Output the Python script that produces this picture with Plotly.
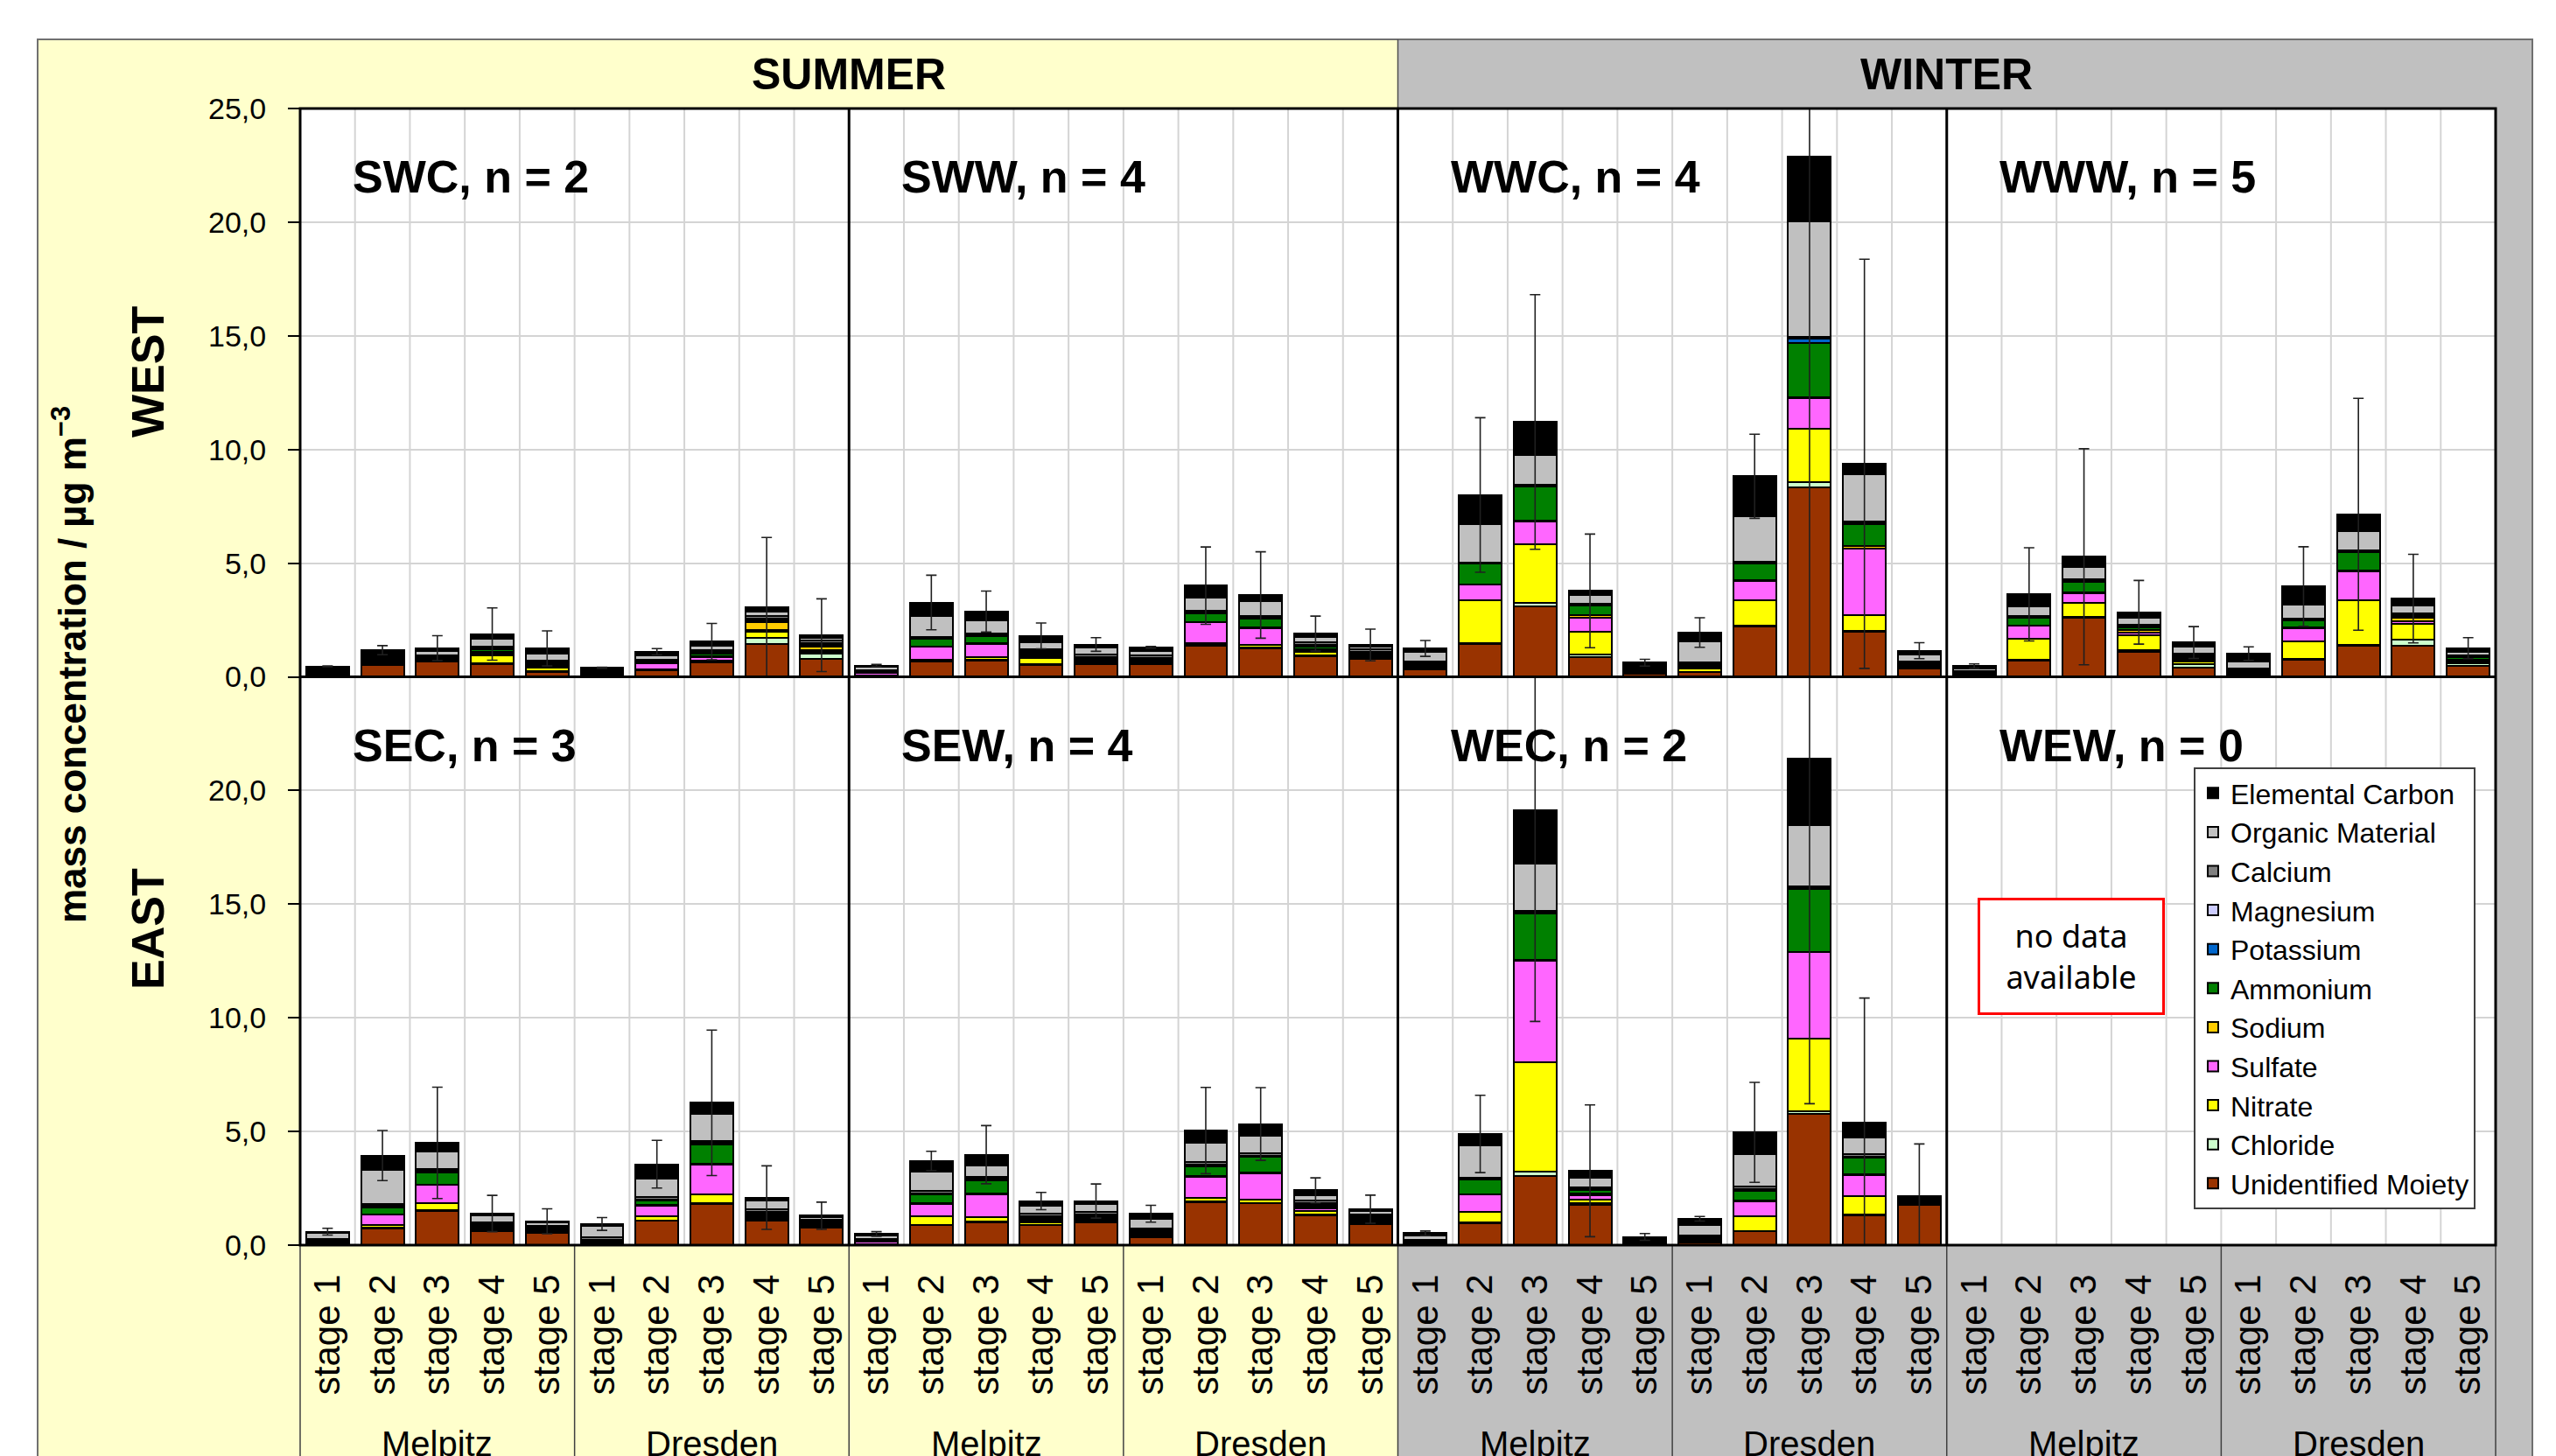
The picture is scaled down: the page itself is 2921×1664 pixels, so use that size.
import plotly.graph_objects as go
from plotly.subplots import make_subplots

W, H = 2921, 1664
FONT = "Liberation Sans, Arial, sans-serif"

# ---------------- data ----------------
components = ["Unidentified Moiety", "Chloride", "Nitrate", "Sulfate", "Sodium",
              "Ammonium", "Potassium", "Magnesium", "Calcium",
              "Organic Material", "Elemental Carbon"]
colors = ["#993300", "#CCFFCC", "#FFFF00", "#FF66FF", "#FFCC00",
          "#008000", "#0066CC", "#CCCCFF", "#808080", "#C0C0C0", "#000000"]

stages = ["stage 1", "stage 2", "stage 3", "stage 4", "stage 5"]
sites = ["Melpitz", "Dresden"]
seasons = ["SUMMER", "WINTER"]
directions = ["WEST", "EAST"]
y_ticks_top = [0, 5, 10, 15, 20, 25]
y_ticks_bottom = [0, 5, 10, 15, 20]

panel_names = ["SWC, n = 2", "SWW, n = 4", "WWC, n = 4", "WWW, n = 5",
               "SEC, n = 3", "SEW, n = 4", "WEC, n = 2", "WEW, n = 0"]

# rows: Melpitz stage 1-5, Dresden stage 1-5; columns in the order of `components`
SWC = [
    [0.03, 0.02, 0.08, 0.04, 0.02, 0.03, 0.02, 0.02, 0.04, 0.08, 0.08],
    [0.52, 0.04, 0.04, 0.04, 0.04, 0.04, 0.04, 0.04, 0.05, 0.10, 0.22],
    [0.67, 0.03, 0.04, 0.04, 0.03, 0.04, 0.03, 0.03, 0.05, 0.18, 0.12],
    [0.55, 0.03, 0.35, 0.10, 0.08, 0.10, 0.04, 0.03, 0.06, 0.32, 0.22],
    [0.20, 0.04, 0.16, 0.06, 0.04, 0.06, 0.04, 0.03, 0.10, 0.30, 0.22],
    [0.10, 0.01, 0.01, 0.01, 0.01, 0.01, 0.01, 0.01, 0.02, 0.02, 0.19],
    [0.27, 0.02, 0.04, 0.25, 0.03, 0.05, 0.03, 0.02, 0.05, 0.20, 0.14],
    [0.62, 0.03, 0.07, 0.15, 0.05, 0.10, 0.04, 0.03, 0.07, 0.22, 0.17],
    [1.45, 0.26, 0.28, 0.08, 0.32, 0.08, 0.06, 0.04, 0.10, 0.20, 0.18],
    [0.78, 0.23, 0.10, 0.06, 0.15, 0.08, 0.05, 0.04, 0.10, 0.14, 0.10],
]
SWC_err = [0.02, 0.2, 0.55, 1.15, 0.77, 0.02, 0.14, 0.8, 3.08, 1.6]

SWW = [
    [0.04, 0.01, 0.01, 0.10, 0.01, 0.02, 0.02, 0.02, 0.05, 0.15, 0.07],
    [0.68, 0.03, 0.05, 0.55, 0.03, 0.32, 0.03, 0.02, 0.06, 0.90, 0.60],
    [0.72, 0.03, 0.10, 0.60, 0.03, 0.30, 0.03, 0.02, 0.06, 0.60, 0.38],
    [0.53, 0.03, 0.25, 0.08, 0.04, 0.10, 0.05, 0.04, 0.10, 0.30, 0.28],
    [0.55, 0.03, 0.08, 0.06, 0.03, 0.06, 0.04, 0.03, 0.10, 0.30, 0.14],
    [0.55, 0.02, 0.03, 0.08, 0.03, 0.05, 0.04, 0.03, 0.10, 0.20, 0.17],
    [1.38, 0.03, 0.08, 0.90, 0.03, 0.36, 0.03, 0.02, 0.06, 0.58, 0.54],
    [1.26, 0.03, 0.12, 0.73, 0.05, 0.36, 0.03, 0.03, 0.07, 0.65, 0.27],
    [0.91, 0.03, 0.16, 0.08, 0.04, 0.10, 0.05, 0.04, 0.10, 0.25, 0.14],
    [0.80, 0.03, 0.05, 0.05, 0.05, 0.06, 0.04, 0.03, 0.10, 0.12, 0.07],
]
SWW_err = [0.05, 1.2, 0.9, 0.57, 0.3, 0.04, 1.7, 1.9, 0.77, 0.7]

WWC = [
    [0.33, 0.03, 0.08, 0.06, 0.03, 0.07, 0.02, 0.01, 0.03, 0.42, 0.17],
    [1.45, 0.05, 1.87, 0.68, 0.03, 0.90, 0.02, 0.01, 0.02, 1.70, 1.27],
    [3.10, 0.15, 2.60, 1.00, 0.03, 1.50, 0.02, 0.01, 0.02, 1.33, 1.45],
    [0.85, 0.15, 1.00, 0.60, 0.10, 0.45, 0.03, 0.02, 0.03, 0.35, 0.20],
    [0.15, 0.01, 0.02, 0.02, 0.01, 0.02, 0.01, 0.01, 0.02, 0.05, 0.30],
    [0.20, 0.03, 0.12, 0.10, 0.02, 0.10, 0.02, 0.01, 0.05, 0.90, 0.40],
    [2.20, 0.05, 1.10, 0.88, 0.03, 0.72, 0.03, 0.02, 0.04, 2.00, 1.75],
    [8.35, 0.20, 2.35, 1.36, 0.03, 2.40, 0.20, 0.02, 0.03, 5.10, 2.85],
    [2.00, 0.04, 0.66, 2.94, 0.12, 0.97, 0.03, 0.02, 0.04, 2.10, 0.45],
    [0.35, 0.03, 0.08, 0.05, 0.02, 0.08, 0.02, 0.01, 0.03, 0.30, 0.18],
]
WWC_err = [0.35, 3.4, 5.6, 2.5, 0.15, 0.65, 1.85, 24.0, 9.0, 0.35]

WWW = [
    [0.05, 0.01, 0.02, 0.10, 0.01, 0.03, 0.01, 0.01, 0.02, 0.12, 0.09],
    [0.73, 0.03, 0.92, 0.56, 0.03, 0.33, 0.02, 0.01, 0.03, 0.45, 0.52],
    [2.60, 0.03, 0.64, 0.42, 0.03, 0.45, 0.03, 0.03, 0.05, 0.55, 0.45],
    [1.09, 0.10, 0.64, 0.12, 0.12, 0.12, 0.03, 0.02, 0.05, 0.30, 0.25],
    [0.42, 0.12, 0.12, 0.08, 0.08, 0.10, 0.03, 0.02, 0.04, 0.32, 0.18],
    [0.05, 0.07, 0.03, 0.05, 0.03, 0.05, 0.02, 0.02, 0.05, 0.30, 0.35],
    [0.77, 0.03, 0.74, 0.60, 0.03, 0.30, 0.03, 0.02, 0.05, 0.60, 0.80],
    [1.35, 0.04, 1.99, 1.26, 0.03, 0.82, 0.02, 0.02, 0.05, 0.82, 0.75],
    [1.37, 0.26, 0.68, 0.12, 0.15, 0.10, 0.03, 0.02, 0.06, 0.35, 0.30],
    [0.50, 0.09, 0.08, 0.05, 0.05, 0.08, 0.02, 0.02, 0.05, 0.15, 0.17],
]
WWW_err = [0.1, 2.05, 4.75, 1.4, 0.7, 0.3, 1.75, 5.1, 1.95, 0.46]

SEC = [
    [0.03, 0.01, 0.02, 0.03, 0.01, 0.08, 0.02, 0.02, 0.05, 0.25, 0.07],
    [0.75, 0.03, 0.10, 0.45, 0.03, 0.30, 0.03, 0.03, 0.10, 1.50, 0.62],
    [1.50, 0.03, 0.32, 0.79, 0.03, 0.54, 0.03, 0.03, 0.07, 0.78, 0.38],
    [0.62, 0.03, 0.04, 0.05, 0.03, 0.05, 0.05, 0.04, 0.08, 0.30, 0.10],
    [0.55, 0.02, 0.04, 0.04, 0.02, 0.04, 0.04, 0.03, 0.08, 0.13, 0.06],
    [0.08, 0.01, 0.02, 0.02, 0.02, 0.03, 0.04, 0.03, 0.08, 0.50, 0.10],
    [1.06, 0.03, 0.18, 0.45, 0.04, 0.20, 0.03, 0.03, 0.10, 0.80, 0.64],
    [1.80, 0.04, 0.38, 1.32, 0.04, 0.85, 0.03, 0.03, 0.10, 1.20, 0.47],
    [1.06, 0.04, 0.08, 0.08, 0.05, 0.08, 0.05, 0.04, 0.10, 0.40, 0.11],
    [0.78, 0.03, 0.04, 0.04, 0.03, 0.05, 0.04, 0.03, 0.08, 0.12, 0.05],
]
SEC_err = [0.15, 1.1, 2.45, 0.8, 0.55, 0.28, 1.05, 3.2, 1.4, 0.6]

SEW = [
    [0.03, 0.01, 0.01, 0.10, 0.01, 0.03, 0.02, 0.02, 0.05, 0.15, 0.06],
    [0.87, 0.03, 0.38, 0.54, 0.03, 0.38, 0.03, 0.03, 0.08, 0.85, 0.48],
    [1.00, 0.03, 0.19, 1.03, 0.03, 0.58, 0.03, 0.03, 0.08, 0.50, 0.48],
    [0.87, 0.03, 0.10, 0.06, 0.04, 0.08, 0.05, 0.04, 0.12, 0.35, 0.20],
    [1.00, 0.03, 0.10, 0.05, 0.04, 0.06, 0.04, 0.04, 0.10, 0.34, 0.14],
    [0.33, 0.03, 0.04, 0.08, 0.03, 0.05, 0.05, 0.04, 0.10, 0.40, 0.23],
    [1.90, 0.03, 0.15, 0.92, 0.03, 0.45, 0.03, 0.03, 0.10, 0.85, 0.55],
    [1.83, 0.03, 0.13, 1.18, 0.03, 0.68, 0.03, 0.03, 0.12, 0.75, 0.52],
    [1.32, 0.03, 0.16, 0.10, 0.04, 0.10, 0.05, 0.04, 0.12, 0.25, 0.20],
    [0.94, 0.03, 0.07, 0.05, 0.04, 0.06, 0.04, 0.03, 0.10, 0.16, 0.06],
]
SEW_err = [0.1, 0.43, 1.28, 0.38, 0.75, 0.37, 1.9, 1.6, 0.55, 0.62]

WEC = [
    [0.05, 0.02, 0.06, 0.02, 0.02, 0.03, 0.01, 0.01, 0.02, 0.18, 0.10],
    [0.97, 0.03, 0.45, 0.78, 0.02, 0.65, 0.02, 0.01, 0.02, 1.42, 0.52],
    [3.03, 0.20, 4.80, 4.47, 0.03, 2.05, 0.05, 0.02, 0.04, 2.10, 2.35],
    [1.78, 0.05, 0.16, 0.22, 0.05, 0.17, 0.03, 0.02, 0.05, 0.42, 0.32],
    [0.05, 0.02, 0.05, 0.02, 0.02, 0.02, 0.01, 0.01, 0.02, 0.04, 0.10],
    [0.12, 0.02, 0.08, 0.05, 0.02, 0.06, 0.02, 0.02, 0.04, 0.45, 0.28],
    [0.60, 0.03, 0.65, 0.65, 0.02, 0.45, 0.03, 0.03, 0.10, 1.45, 0.95],
    [5.78, 0.11, 3.20, 3.79, 0.03, 2.75, 0.05, 0.03, 0.05, 2.68, 2.95],
    [1.30, 0.03, 0.84, 0.92, 0.03, 0.73, 0.03, 0.02, 0.10, 0.75, 0.62],
    [1.78, 0.00, 0.00, 0.00, 0.00, 0.00, 0.00, 0.00, 0.00, 0.00, 0.39],
]
WEC_err = [0.1, 1.7, 9.3, 2.9, 0.15, 0.1, 2.2, 15.2, 5.5, 2.28]

WEW = None          # no data available
WEW_err = None

panel_data = [SWC, SWW, WWC, WWW, SEC, SEW, WEC, WEW]
panel_err = [SWC_err, SWW_err, WWC_err, WWW_err, SEC_err, SEW_err, WEC_err, WEW_err]

# ---------------- geometry (pixels) ----------------
PL, PR, PT, PB = 343, 2852, 124, 1423
PW = (PR - PL) / 4.0
PH = (PB - PT) / 2.0
FL, FR, FT = 43, 2894, 45
SPLIT = PL + 2 * PW


def X(px):
    return px / W


def Y(py):
    return 1 - py / H


fig = make_subplots(rows=2, cols=4, horizontal_spacing=0, vertical_spacing=0)

xs = list(range(10))
ticktext_x = stages + stages

for i, data in enumerate(panel_data):
    r, c = i // 4 + 1, i % 4 + 1
    if data is not None:
        for k, comp in enumerate(components):
            fig.add_trace(go.Bar(
                x=xs, y=[row[k] for row in data], name=comp,
                marker=dict(color=colors[k], line=dict(color="black", width=2)),
                width=0.78, showlegend=(i == 0), hoverinfo="skip"),
                row=r, col=c)
        totals = [sum(row) for row in data]
        fig.add_trace(go.Scatter(
            x=xs, y=totals, mode="markers",
            marker=dict(size=2, color="rgba(0,0,0,0)"),
            error_y=dict(type="data", array=panel_err[i], symmetric=True,
                         color="#202020", thickness=1.6, width=6),
            showlegend=False, hoverinfo="skip"),
            row=r, col=c)
    else:
        # empty placeholder so the axis of the no-data panel is still drawn
        fig.add_trace(go.Scatter(x=xs, y=[None] * 10, mode="markers",
                                 showlegend=False, hoverinfo="skip"),
                      row=r, col=c)

    x0 = PL + (c - 1) * PW
    top = PT + (r - 1) * PH
    fig.update_xaxes(
        type="linear", automargin=False,
        domain=[X(x0), X(x0 + PW)], range=[-0.5, 9.5],
        tickmode="array", tickvals=xs, ticktext=ticktext_x, tickangle=-90,
        showticklabels=(r == 2), ticks="", showgrid=False, zeroline=False,
        showline=False, tickfont=dict(family=FONT, size=42, color="black"),
        ticklabelstandoff=24, fixedrange=True,
        row=r, col=c)
    yt = y_ticks_top if r == 1 else y_ticks_bottom
    fig.update_yaxes(
        type="linear", automargin=False,
        domain=[Y(top + PH), Y(top)], range=[0, 25],
        tickmode="array", tickvals=yt,
        ticktext=[f"{v:.1f}".replace(".", ",") for v in yt],
        showticklabels=(c == 1), ticks=("outside" if c == 1 else ""),
        ticklen=13, tickwidth=2, tickcolor="black",
        showgrid=True, gridcolor="#D4D4D4", gridwidth=2,
        zeroline=False, showline=False,
        tickfont=dict(family=FONT, size=34, color="black"),
        ticklabelstandoff=18, fixedrange=True,
        row=r, col=c)

# ---------------- shapes ----------------
shapes = []
shapes.append(dict(type="rect", xref="paper", yref="paper", layer="below",
                   x0=X(FL), x1=X(SPLIT), y0=Y(FT), y1=Y(H + 40),
                   fillcolor="#FFFFCC", line=dict(width=0)))
shapes.append(dict(type="rect", xref="paper", yref="paper", layer="below",
                   x0=X(SPLIT), x1=X(FR), y0=Y(FT), y1=Y(H + 40),
                   fillcolor="#C0C0C0", line=dict(width=0)))
shapes.append(dict(type="rect", xref="paper", yref="paper", layer="below",
                   x0=X(FL), x1=X(FR), y0=Y(FT), y1=Y(H + 40),
                   line=dict(color="#707070", width=2)))
shapes.append(dict(type="rect", xref="paper", yref="paper", layer="below",
                   x0=X(PL), x1=X(PR), y0=Y(PB), y1=Y(PT),
                   fillcolor="white", line=dict(width=0)))
for c in range(4):
    for k in range(1, 10):
        xx = PL + c * PW + k * PW / 10
        shapes.append(dict(type="line", xref="paper", yref="paper", layer="below",
                           x0=X(xx), x1=X(xx), y0=Y(PB), y1=Y(PT),
                           line=dict(color="#D4D4D4", width=2)))
shapes.append(dict(type="line", xref="paper", yref="paper", layer="above",
                   x0=X(SPLIT), x1=X(SPLIT), y0=Y(FT), y1=Y(PT),
                   line=dict(color="#505050", width=1.5)))
for k in range(9):
    xx = PL + k * PW / 2
    shapes.append(dict(type="line", xref="paper", yref="paper", layer="above",
                       x0=X(xx), x1=X(xx), y0=Y(PB), y1=Y(H + 40),
                       line=dict(color="#404040", width=1.5)))
for c in range(1, 4):
    xx = PL + c * PW
    shapes.append(dict(type="line", xref="paper", yref="paper", layer="above",
                       x0=X(xx), x1=X(xx), y0=Y(PB), y1=Y(PT),
                       line=dict(color="black", width=3)))
shapes.append(dict(type="line", xref="paper", yref="paper", layer="above",
                   x0=X(PL), x1=X(PR), y0=Y(PT + PH), y1=Y(PT + PH),
                   line=dict(color="black", width=3)))
shapes.append(dict(type="rect", xref="paper", yref="paper", layer="above",
                   x0=X(PL), x1=X(PR), y0=Y(PB), y1=Y(PT),
                   line=dict(color="black", width=3)))

# ---------------- annotations ----------------
ann = []
bold = dict(family=FONT, color="black", weight="bold")
for s, name in enumerate(seasons):
    cx = PL + (2 * s + 1) * PW
    ann.append(dict(x=X(cx), y=Y(85), xref="paper", yref="paper", text=name,
                    showarrow=False, xanchor="center", yanchor="middle",
                    font=dict(size=50, **bold)))
for i, name in enumerate(panel_names):
    r, c = i // 4, i % 4
    ann.append(dict(x=X(PL + c * PW + 58), y=Y(PT + r * PH + 78),
                    xref="paper", yref="paper", text=name, showarrow=False,
                    xanchor="left", yanchor="middle", font=dict(size=52, **bold)))
for r, name in enumerate(directions):
    ann.append(dict(x=X(169), y=Y([425, 1062][r]), xref="paper", yref="paper",
                    text=name, textangle=-90, showarrow=False,
                    xanchor="center", yanchor="middle", font=dict(size=52, **bold)))
ann.append(dict(x=X(80), y=Y(760), xref="paper", yref="paper",
                text="mass concentration / µg m<sup>−3</sup>", textangle=-90,
                showarrow=False, xanchor="center", yanchor="middle",
                font=dict(size=44, **bold)))
for c in range(4):
    for s, site in enumerate(sites):
        cx = PL + c * PW + (s + 0.5) * PW / 2
        ann.append(dict(x=X(cx), y=Y(1626), xref="paper", yref="paper", text=site,
                        showarrow=False, xanchor="center", yanchor="top",
                        font=dict(family=FONT, size=40, color="black")))
ann.append(dict(x=X(2367), y=Y(1093), xref="paper", yref="paper",
                text="no data<br>available", showarrow=False,
                xanchor="center", yanchor="middle", align="center",
                font=dict(family="Noto Sans, Open Sans, sans-serif", size=36, color="black"),
                bordercolor="#FF0000", borderwidth=3, borderpad=8,
                bgcolor="white", width=192, height=112))

fig.update_layout(
    width=W, height=H, autosize=False,
    margin=dict(l=0, r=0, t=0, b=0, pad=0, autoexpand=False),
    barmode="stack",
    paper_bgcolor="white", plot_bgcolor="rgba(0,0,0,0)",
    shapes=shapes, annotations=ann,
    showlegend=True,
    legend=dict(x=X(2507), y=Y(877), xanchor="left", yanchor="top",
                traceorder="reversed", bgcolor="white",
                bordercolor="#404040", borderwidth=2,
                font=dict(family=FONT, size=32, color="black"),
                itemwidth=30, tracegroupgap=0),
    font=dict(family=FONT, color="black"),
)

fig.write_html("out.html", config={"displayModeBar": False},
               post_script="document.body.style.margin='0';document.body.style.overflow='hidden';")
